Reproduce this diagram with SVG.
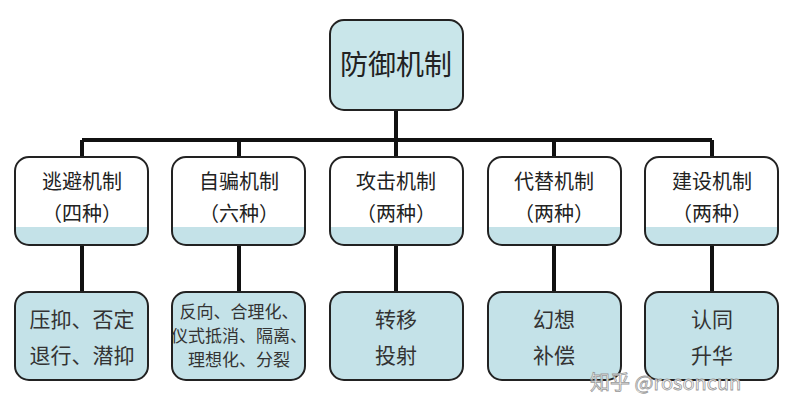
<svg xmlns="http://www.w3.org/2000/svg" width="792" height="418" viewBox="0 0 792 418">
<style>
.box{stroke:#222;stroke-width:2}
.t{font-family:"Noto Sans CJK SC","Noto Sans",sans-serif;text-anchor:middle;fill:#222}
.mid{font-size:20px}
.bot{font-size:21px;fill:#333}
.small{font-size:17px;fill:#333}
.ln{stroke:#111;stroke-width:4;fill:none}
</style>
<defs>
<linearGradient id="g" x1="0" y1="0" x2="0" y2="1">
<stop offset="0.79" stop-color="#ffffff"/><stop offset="0.79" stop-color="#c4e2e8"/>
</linearGradient>
</defs>
<rect width="792" height="418" fill="#fff"/>
<g id="connectors">
<path class="ln" d="M396 110V140M82 140H712M82 140V157M239 140V157M396 140V157M554 140V157M712 140V157"/>
<path class="ln" d="M82 245V292M239 245V292M396 245V292M554 245V292M712 245V292"/>
</g>
<g id="root"><rect class="box" x="330" y="20" width="133" height="90" rx="14" fill="#c9e6ea"/><text class="t" x="396" y="75" font-size="28">防御机制</text></g>
<g id="m1"><rect class="box" x="15" y="157" width="133" height="88" rx="14" fill="url(#g)"/><text class="t mid" x="82" y="189">逃避机制</text><text class="t mid" x="82" y="221">（四种）</text></g>
<g id="m2"><rect class="box" x="172" y="157" width="133" height="88" rx="14" fill="url(#g)"/><text class="t mid" x="239" y="189">自骗机制</text><text class="t mid" x="239" y="221">（六种）</text></g>
<g id="m3"><rect class="box" x="330" y="157" width="133" height="88" rx="14" fill="url(#g)"/><text class="t mid" x="396" y="189">攻击机制</text><text class="t mid" x="396" y="221">（两种）</text></g>
<g id="m4"><rect class="box" x="488" y="157" width="133" height="88" rx="14" fill="url(#g)"/><text class="t mid" x="554" y="189">代替机制</text><text class="t mid" x="554" y="221">（两种）</text></g>
<g id="m5"><rect class="box" x="645" y="157" width="133" height="88" rx="14" fill="url(#g)"/><text class="t mid" x="712" y="189">建设机制</text><text class="t mid" x="712" y="221">（两种）</text></g>
<g id="b1"><rect class="box" x="15" y="292" width="133" height="88" rx="14" fill="#c4e2e8"/><text class="t bot" x="82" y="327">压抑、否定</text><text class="t bot" x="82" y="363">退行、潜抑</text></g>
<g id="b2"><rect class="box" x="172" y="292" width="133" height="88" rx="14" fill="#c4e2e8"/><text class="t small" x="239" y="318">反向、合理化、</text><text class="t small" x="239" y="342">仪式抵消、隔离、</text><text class="t small" x="239" y="366">理想化、分裂</text></g>
<g id="b3"><rect class="box" x="330" y="292" width="133" height="88" rx="14" fill="#c4e2e8"/><text class="t bot" x="396" y="327">转移</text><text class="t bot" x="396" y="363">投射</text></g>
<g id="b4"><rect class="box" x="488" y="292" width="133" height="88" rx="14" fill="#c4e2e8"/><text class="t bot" x="554" y="327">幻想</text><text class="t bot" x="554" y="363">补偿</text></g>
<g id="b5"><rect class="box" x="645" y="292" width="133" height="88" rx="14" fill="#c4e2e8"/><text class="t bot" x="712" y="327">认同</text><text class="t bot" x="712" y="363">升华</text></g>
<text x="590" y="390" font-family="Noto Sans CJK SC,sans-serif" font-size="20" fill="#fff" stroke="#999" stroke-width="0.8">知乎 @rosoncun</text>
</svg>
